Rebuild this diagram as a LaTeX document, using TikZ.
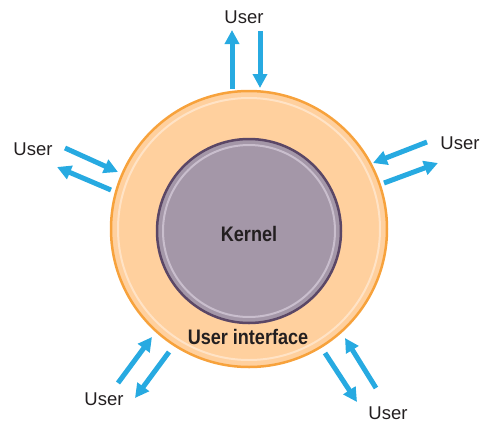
\documentclass[tikz,border=0pt]{standalone}
\usepackage{fontspec}
\setmainfont{Liberation Sans}
\newfontfamily\condfont[FakeStretch=0.86]{Liberation Sans}
\usepackage{tikz}
\usetikzlibrary{arrows.meta}
\definecolor{ringfill}{HTML}{FFD09E}
\definecolor{ringline}{HTML}{F7A23C}
\definecolor{ringlight}{HTML}{FFE3C6}
\definecolor{kernfill}{HTML}{A497A8}
\definecolor{kernline}{HTML}{5B4766}
\definecolor{kernlight}{HTML}{C9BECD}
\definecolor{flowblue}{HTML}{27AAE1}
\definecolor{ink}{HTML}{231F20}
\tikzset{
	flow/.style={draw=flowblue,line width=5pt,-{Triangle[width=14pt,length=14pt]}},
	user/.style={text=ink,font=\fontsize{18.5}{20}\selectfont,inner sep=0pt},
	layer/.style={text=ink,font=\condfont\fontsize{21}{23}\selectfont\bfseries,inner sep=0pt}
}

\begin{document}
\begin{tikzpicture}[x=1pt,y=-1pt]
	\useasboundingbox (0,0) rectangle (480,424);
	% shell and kernel
	\coordinate (c) at (249,229);
	\fill[ringfill] (c) circle[radius=138pt];
	\draw[ringlight,line width=2pt] (c) circle[radius=131pt];
	\draw[ringline,line width=2.5pt] (c) circle[radius=138pt];
	\coordinate (k) at (249,231);
	\fill[kernfill] (k) circle[radius=92pt];
	\draw[kernlight,line width=2pt] (k) circle[radius=86pt];
	\draw[kernline,line width=2.5pt] (k) circle[radius=92pt];
	\node[layer] (kernel) at (249,234) {Kernel};
	\node[layer] (ui) at (248,337) {User interface};
	% users
	\node[user] (u1) at (244,17) {User};
	\node[user] (u2) at (33,149) {User};
	\node[user] (u3) at (460,143) {User};
	\node[user] (u4) at (104,399) {User};
	\node[user] (u5) at (388,413) {User};
	% arrow ends
	\coordinate (a1) at (232,89);  \coordinate (b1) at (232,30);
	\coordinate (a2) at (260,31);  \coordinate (b2) at (260,88);
	\coordinate (a3) at (65,148);  \coordinate (b3) at (118,172);
	\coordinate (a4) at (111,190); \coordinate (b4) at (57,167);
	\coordinate (a5) at (427,142); \coordinate (b5) at (373,163);
	\coordinate (a6) at (384,183); \coordinate (b6) at (438,163);
	\coordinate (a7) at (118,383); \coordinate (b7) at (152,337);
	\coordinate (a8) at (169,352); \coordinate (b8) at (135,398);
	\coordinate (a9) at (325,353); \coordinate (b9) at (357,402);
	\coordinate (a10) at (376,388); \coordinate (b10) at (345,338);
	\foreach \i in {1,...,10}
		\draw[flow] (a\i) -- (b\i);
\end{tikzpicture}
\end{document}
